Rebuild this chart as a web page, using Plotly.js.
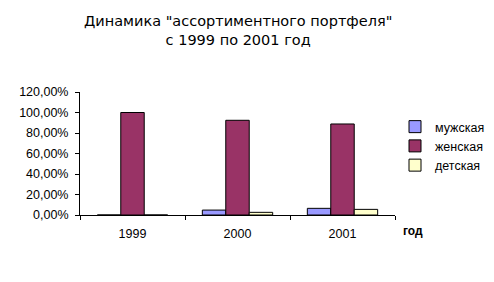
<!DOCTYPE html>
<html><head><meta charset="utf-8">
<script src="https://cdn.plot.ly/plotly-3.0.1.min.js"></script>
<style>html,body{margin:0;padding:0;background:#fff}#c{width:494px;height:282px}</style>
</head><body><div id="c"></div>
<script>
const years = ['1999', '2000', '2001'];
const male = [0, 4.8, 6.5];
const female = [100, 92.4, 88.8];
const kids = [0, 2.6, 5.5];
const seriesNames = ['мужская', 'женская', 'детская'];
const yTickVals = [0, 20, 40, 60, 80, 100, 120];
const yTickText = ['0,00%', '20,00%', '40,00%', '60,00%', '80,00%', '100,00%', '120,00%'];

const colors = ['#9999FF', '#993366', '#FFFFCC'];
const data = [male, female, kids].map((v, i) => ({
  type: 'bar', x: years, y: v, name: seriesNames[i],
  marker: {color: colors[i], line: {color: '#000', width: 1}},
  hoverinfo: 'skip'
}));

const layout = {
  width: 494, height: 282,
  margin: {l: 80, r: 89, t: 92, b: 67},
  paper_bgcolor: '#fff', plot_bgcolor: '#fff',
  font: {family: 'Liberation Sans, Arial, sans-serif', size: 12.5, color: '#000'},
  title: {text: 'Динамика "ассортиментного портфеля"<br>с 1999 по 2001 год',
    font: {family: 'DejaVu Sans, Verdana, sans-serif', size: 14.5, color: '#000'},
    x: 0.502, xanchor: 'center', xref: 'paper', y: 1 - 26/282, yanchor: 'top', yref: 'container'},
  barmode: 'group', bargap: 0.33, bargroupgap: 0,
  showlegend: true,
  legend: {x: 395/494, xref: 'container', xanchor: 'left', y: 1 - 112/282, yref: 'container', yanchor: 'top',
    font: {size: 12.5}, itemwidth: 30, tracegroupgap: 0, bgcolor: 'rgba(0,0,0,0)'},
  xaxis: {type: 'category', showline: true, linecolor: '#000', linewidth: 1,
    ticks: 'outside', tickson: 'boundaries', ticklen: 4, tickcolor: '#000',
    showgrid: false, zeroline: false, tickfont: {size: 12.5}, ticklabelstandoff: 7, fixedrange: true},
  yaxis: {range: [0, 120], tickvals: yTickVals, ticktext: yTickText, showline: true, linecolor: '#000', linewidth: 1,
    ticks: 'outside', ticklen: 4, tickcolor: '#000', showgrid: false, zeroline: false,
    tickfont: {size: 12.5}, ticklabelstandoff: 4, fixedrange: true},
  annotations: [{text: '<b>год</b>', xref: 'paper', yref: 'paper', x: 1.02, y: -0.13,
    xanchor: 'left', yanchor: 'middle', showarrow: false, font: {size: 12}}]
};
Plotly.newPlot('c', data, layout, {staticPlot: true, displayModeBar: false});
</script></body></html>
